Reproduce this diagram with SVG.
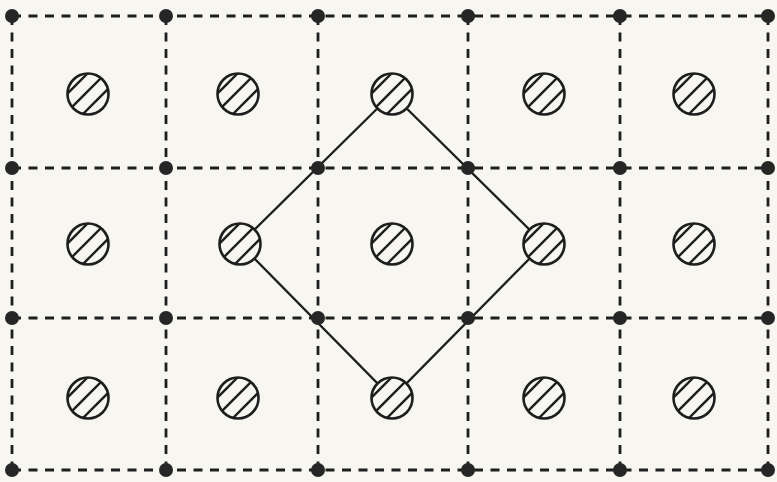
<svg xmlns="http://www.w3.org/2000/svg" xmlns:xlink="http://www.w3.org/1999/xlink" width="777" height="482" viewBox="0 0 777 482">
<style>
.grid{stroke:#1e1e1e;stroke-width:2.8;stroke-dasharray:9 7.5;fill:none}
.dia{stroke:#1e1e1e;stroke-width:2.3;fill:none}
.dot{fill:#262626}
.ring{fill:#f7f6f1;stroke:#1e1e1e;stroke-width:2.6}
.hat{stroke:#1e1e1e;stroke-width:2.4}
</style>
<defs>
<clipPath id="cc"><circle cx="0" cy="0" r="20"/></clipPath>
<g id="hc">
<circle class="ring" cx="0" cy="0" r="20.5"/>
<g clip-path="url(#cc)">
<line class="hat" x1="-36" y1="15" x2="15" y2="-36"/>
<line class="hat" x1="-27" y1="24" x2="24" y2="-27"/>
<line class="hat" x1="-18" y1="33" x2="33" y2="-18"/>
</g>
</g>
</defs>
<rect width="777" height="482" fill="#f7f6f1"/>
<g id="connectors">
<line class="grid" x1="12" y1="16" x2="768" y2="16"/>
<line class="grid" x1="12" y1="168" x2="768" y2="168"/>
<line class="grid" x1="12" y1="318" x2="768" y2="318"/>
<line class="grid" x1="12" y1="470" x2="768" y2="470"/>
<line class="grid" x1="12" y1="16" x2="12" y2="470"/>
<line class="grid" x1="166" y1="16" x2="166" y2="470"/>
<line class="grid" x1="318" y1="16" x2="318" y2="470"/>
<line class="grid" x1="468" y1="16" x2="468" y2="470"/>
<line class="grid" x1="620" y1="16" x2="620" y2="470"/>
<line class="grid" x1="768" y1="16" x2="768" y2="470"/>
<polygon class="dia" points="392,94 544,244 392,398 240,244"/>
</g>
<g id="dots">
<g id="d00"><circle class="dot" cx="12" cy="16" r="7"/></g>
<g id="d01"><circle class="dot" cx="166" cy="16" r="7"/></g>
<g id="d02"><circle class="dot" cx="318" cy="16" r="7"/></g>
<g id="d03"><circle class="dot" cx="468" cy="16" r="7"/></g>
<g id="d04"><circle class="dot" cx="620" cy="16" r="7"/></g>
<g id="d05"><circle class="dot" cx="768" cy="16" r="7"/></g>
<g id="d10"><circle class="dot" cx="12" cy="168" r="7"/></g>
<g id="d11"><circle class="dot" cx="166" cy="168" r="7"/></g>
<g id="d12"><circle class="dot" cx="318" cy="168" r="7"/></g>
<g id="d13"><circle class="dot" cx="468" cy="168" r="7"/></g>
<g id="d14"><circle class="dot" cx="620" cy="168" r="7"/></g>
<g id="d15"><circle class="dot" cx="768" cy="168" r="7"/></g>
<g id="d20"><circle class="dot" cx="12" cy="318" r="7"/></g>
<g id="d21"><circle class="dot" cx="166" cy="318" r="7"/></g>
<g id="d22"><circle class="dot" cx="318" cy="318" r="7"/></g>
<g id="d23"><circle class="dot" cx="468" cy="318" r="7"/></g>
<g id="d24"><circle class="dot" cx="620" cy="318" r="7"/></g>
<g id="d25"><circle class="dot" cx="768" cy="318" r="7"/></g>
<g id="d30"><circle class="dot" cx="12" cy="470" r="7"/></g>
<g id="d31"><circle class="dot" cx="166" cy="470" r="7"/></g>
<g id="d32"><circle class="dot" cx="318" cy="470" r="7"/></g>
<g id="d33"><circle class="dot" cx="468" cy="470" r="7"/></g>
<g id="d34"><circle class="dot" cx="620" cy="470" r="7"/></g>
<g id="d35"><circle class="dot" cx="768" cy="470" r="7"/></g>
</g>
<g id="atoms">
<g id="a00"><use xlink:href="#hc" href="#hc" x="88" y="94"/></g>
<g id="a01"><use xlink:href="#hc" href="#hc" x="238" y="94"/></g>
<g id="a02"><use xlink:href="#hc" href="#hc" x="392" y="94"/></g>
<g id="a03"><use xlink:href="#hc" href="#hc" x="544" y="94"/></g>
<g id="a04"><use xlink:href="#hc" href="#hc" x="694" y="94"/></g>
<g id="a10"><use xlink:href="#hc" href="#hc" x="88" y="244"/></g>
<g id="a11"><use xlink:href="#hc" href="#hc" x="240" y="244"/></g>
<g id="a12"><use xlink:href="#hc" href="#hc" x="392" y="244"/></g>
<g id="a13"><use xlink:href="#hc" href="#hc" x="544" y="244"/></g>
<g id="a14"><use xlink:href="#hc" href="#hc" x="694" y="244"/></g>
<g id="a20"><use xlink:href="#hc" href="#hc" x="88" y="398"/></g>
<g id="a21"><use xlink:href="#hc" href="#hc" x="238" y="398"/></g>
<g id="a22"><use xlink:href="#hc" href="#hc" x="392" y="398"/></g>
<g id="a23"><use xlink:href="#hc" href="#hc" x="544" y="398"/></g>
<g id="a24"><use xlink:href="#hc" href="#hc" x="694" y="398"/></g>
</g>
</svg>
